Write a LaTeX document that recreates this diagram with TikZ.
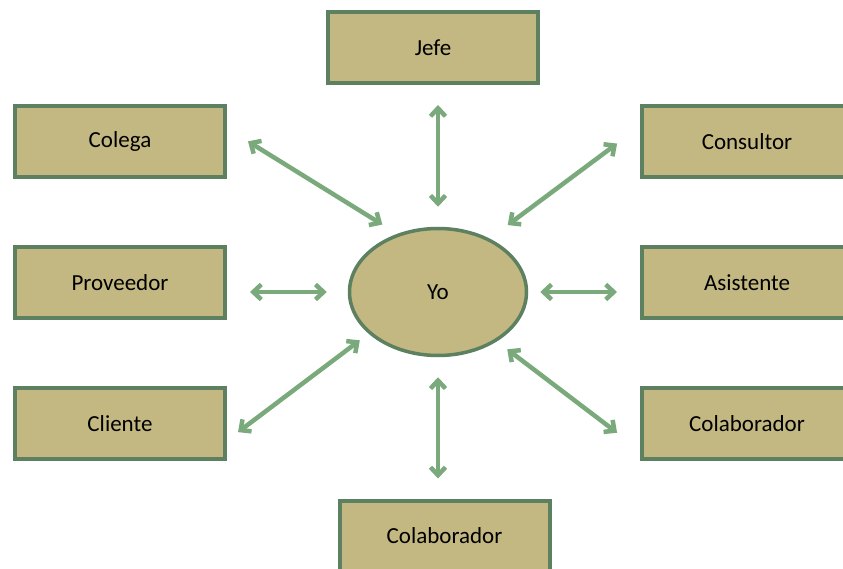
\documentclass[tikz,border=0pt]{standalone}
\usepackage{fontspec}
\setmainfont{Carlito}
\usetikzlibrary{arrows.meta,shapes.geometric}

\definecolor{colcaja}{RGB}{195,184,130}
\definecolor{colborde}{RGB}{92,128,96}
\definecolor{colflecha}{RGB}{122,170,124}

\tikzset{
  caja/.style={draw=colborde, fill=colcaja, line width=4pt,
    minimum width=210pt, minimum height=71pt,
    font=\fontsize{23}{27}\selectfont},
  centro/.style={ellipse, draw=colborde, fill=colcaja, line width=3.5pt,
    minimum width=177pt, minimum height=127pt,
    font=\fontsize{23}{27}\selectfont},
  flecha/.style={draw=colflecha, line width=4.5pt,
    {Straight Barb[length=8pt,width=15pt]}-{Straight Barb[length=8pt,width=15pt]}}
}

\begin{document}
\begin{tikzpicture}[x=1pt, y=-1pt]
    \useasboundingbox (0,0) rectangle (843,569);

    % Nodo central
    \node[centro] (yo) at (438,292) {Yo};

    % Cajas alrededor
    \foreach \nombre/\x/\y/\lbl in {
        jefe/433/47.5/{Jefe},
        colega/120/141.5/{Colega},
        consultor/747/141.5/{Consultor},
        proveedor/120/282.5/{Proveedor},
        asistente/747/282.5/{Asistente},
        cliente/120/423.5/{Cliente},
        colabder/747/423.5/{Colaborador},
        colababajo/444.5/536/{Colaborador}
    }{
        \node[caja] (\nombre) at (\x,\y) {\lbl};
    }

    % Flechas rectas
    \draw[flecha, shorten <=20pt, shorten >=20pt] (yo.north) -- (yo.north |- jefe.south);
    \draw[flecha, shorten <=20pt, shorten >=20pt] (yo.south) -- (yo.south |- colababajo.north);
    \draw[flecha, shorten <=21pt, shorten >=23pt] (yo.west) -- (yo.west -| proveedor.east);
    \draw[flecha, shorten <=12pt, shorten >=23pt] (yo.east) -- (yo.east -| asistente.west);

    % Flechas diagonales
    \foreach \nombre/\aa/\ab/\sa/\sb in {
        colega/125/7/17.5/24.7,
        consultor/46/172/22.5/28.6,
        cliente/211/351/11/13.8,
        colabder/320/194/13/28.8
    }{
        \draw[flecha, shorten <=\sa pt, shorten >=\sb pt] (yo.\aa) -- (\nombre.\ab);
    }

\end{tikzpicture}
\end{document}
